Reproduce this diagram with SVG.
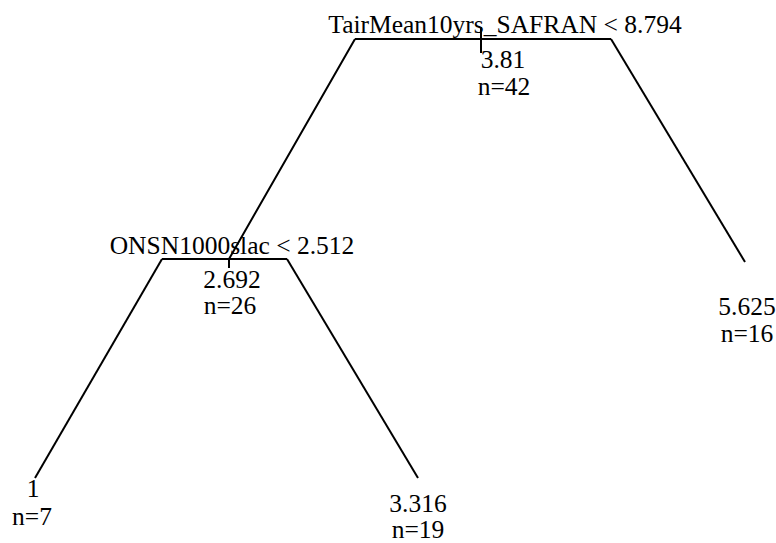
<svg xmlns="http://www.w3.org/2000/svg" width="776" height="543" viewBox="0 0 776 543">
<style>
.t text{font-family:'Liberation Serif','Times New Roman',serif;font-size:25.5px;fill:#000;text-anchor:middle}
.e{stroke:#000;stroke-width:2;fill:none}
</style>
<rect width="776" height="543" fill="#fff"/>
<g id="connectors">
<path class="e" d="M355,39 H611"/>
<path class="e" d="M481,27 V53"/>
<path class="e" d="M355,39 L229,259 V268"/>
<path class="e" d="M611,39 L745,262"/>
<path class="e" d="M162,259 H287"/>
<path class="e" d="M162,259 L35,478"/>
<path class="e" d="M287,259 L418,478"/>
</g>
<g class="t">
<g id="node-root">
<text x="505" y="33">TairMean10yrs_SAFRAN &lt; 8.794</text>
<text x="503" y="68">3.81</text>
<text x="504" y="95">n=42</text>
</g>
<g id="node-left">
<text x="232" y="254">ONSN1000slac &lt; 2.512</text>
<text x="232" y="288">2.692</text>
<text x="230" y="314">n=26</text>
</g>
<g id="leaf-1">
<text x="33" y="497">1</text>
<text x="32" y="525">n=7</text>
</g>
<g id="leaf-3316">
<text x="418" y="512">3.316</text>
<text x="418" y="538">n=19</text>
</g>
<g id="leaf-5625">
<text x="747" y="315">5.625</text>
<text x="747" y="342">n=16</text>
</g>
</g>
</svg>
